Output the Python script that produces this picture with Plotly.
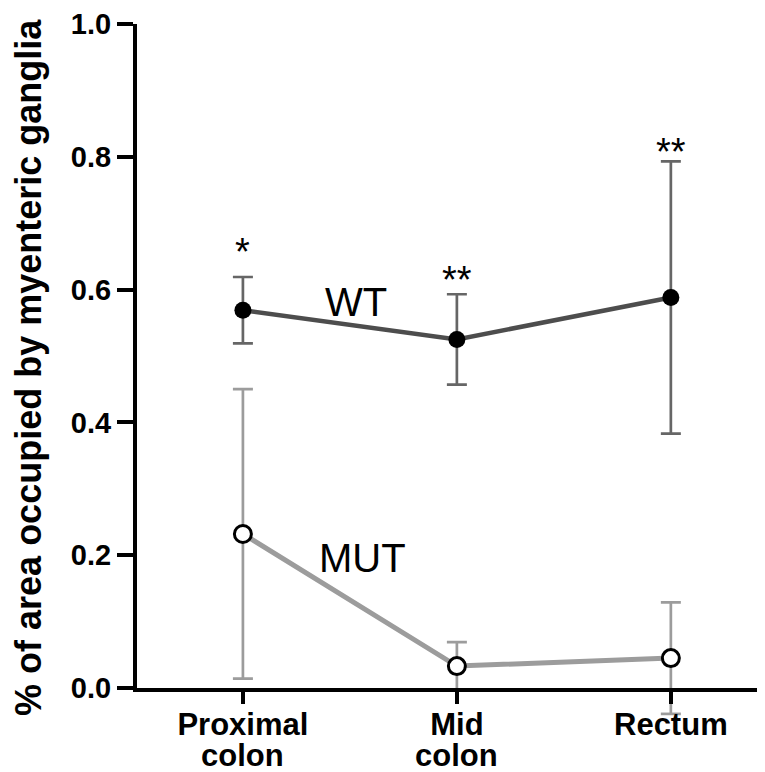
import plotly.graph_objects as go

categories = ["Proximal colon", "Mid colon", "Rectum"]
x_pos = [0, 1, 2]
wt_mean = [0.569, 0.525, 0.588]
wt_err = [0.050, 0.068, 0.205]
mut_mean = [0.232, 0.033, 0.045]
mut_err = [0.218, 0.036, 0.084]
stars = ["*", "**", "**"]
star_y = [0.656, 0.614, 0.807]
y_ticks = [0.0, 0.2, 0.4, 0.6, 0.8, 1.0]

FONT = "Liberation Sans, Arial, sans-serif"
MUT_COL = "#9c9c9c"
WT_ERR_COL = "#666666"

fig = go.Figure()
fig.add_trace(go.Scatter(
    x=x_pos, y=mut_mean, mode="lines+markers", cliponaxis=False,
    line=dict(color=MUT_COL, width=5),
    marker=dict(size=17, color="white", line=dict(color="black", width=3)),
    error_y=dict(type="data", array=mut_err, visible=True, color=MUT_COL, thickness=2.7, width=10),
    showlegend=False,
))

# parts of MUT error bars that go below the x axis (the y range is 0..1 so paper y == data y)
for xi, m, e in zip(x_pos, mut_mean, mut_err):
    low = m - e
    if low < 0:
        fig.add_shape(type="line", xref="x", yref="paper", xsizemode="pixel", xanchor=xi,
                      x0=0, x1=0, y0=0, y1=low, layer="below",
                      line=dict(color=MUT_COL, width=2.7))
        fig.add_shape(type="line", xref="x", yref="paper", xsizemode="pixel", xanchor=xi,
                      x0=-10, x1=10, y0=low, y1=low, layer="below",
                      line=dict(color=MUT_COL, width=2.7))

fig.add_trace(go.Scatter(
    x=x_pos, y=wt_mean, mode="lines+markers", cliponaxis=False,
    line=dict(color="#4d4d4d", width=4.5),
    marker=dict(size=17, color="black"),
    error_y=dict(type="data", array=wt_err, visible=True, color=WT_ERR_COL, thickness=2.7, width=10),
    showlegend=False,
))

for xi, s, sy in zip(x_pos, stars, star_y):
    fig.add_annotation(x=xi, y=sy, text=s, showarrow=False,
                       font=dict(family=FONT, size=38, color="black"),
                       xanchor="center", yanchor="middle")

fig.add_annotation(x=0.528, y=0.582, text="WT", showarrow=False,
                   font=dict(family=FONT, size=40, color="black"))
fig.add_annotation(x=0.561, y=0.196, text="MUT", showarrow=False,
                   font=dict(family=FONT, size=40, color="black"))

fig.add_annotation(xref="paper", yref="paper", x=-0.172, y=0.4835,
                   text="<b>% of area occupied by myenteric ganglia</b>",
                   textangle=-90, showarrow=False,
                   font=dict(family=FONT, size=36, color="black"),
                   xanchor="center", yanchor="middle")

# second lines of category labels
first_lines = [c.split(" ", 1)[0] for c in categories]
for xi, c in zip(x_pos, categories):
    parts = c.split(" ", 1)
    if len(parts) > 1:
        fig.add_annotation(x=xi, xref="x", yref="paper", y=0, yshift=-48,
                           text="<b>" + parts[1] + "</b>", showarrow=False,
                           font=dict(family=FONT, size=31, color="black"),
                           xanchor="center", yanchor="top")

fig.update_layout(
    width=757, height=764,
    margin=dict(l=129, r=0, t=12, b=84),
    paper_bgcolor="white", plot_bgcolor="rgba(0,0,0,0)",
    font=dict(family=FONT, color="black"),
    xaxis=dict(range=[-0.495, 2.44], tickvals=x_pos,
               ticktext=["<b>" + c + "</b>" for c in first_lines],
               showgrid=False, zeroline=False, showline=True,
               linecolor="black", linewidth=4,
               ticks="outside", ticklen=12, tickwidth=4, tickcolor="black",
               ticklabelstandoff=-6,
               tickfont=dict(family=FONT, size=31, color="black")),
    yaxis=dict(range=[0, 1.0], tickvals=y_ticks,
               ticktext=["<b>%.1f</b>" % v for v in y_ticks],
               showgrid=False, zeroline=False, showline=True,
               linecolor="black", linewidth=4,
               ticks="outside", ticklen=16, tickwidth=4, tickcolor="black",
               ticklabeloverflow="allow",
               tickfont=dict(family=FONT, size=29, color="black")),
)

fig.write_html("out.html")
